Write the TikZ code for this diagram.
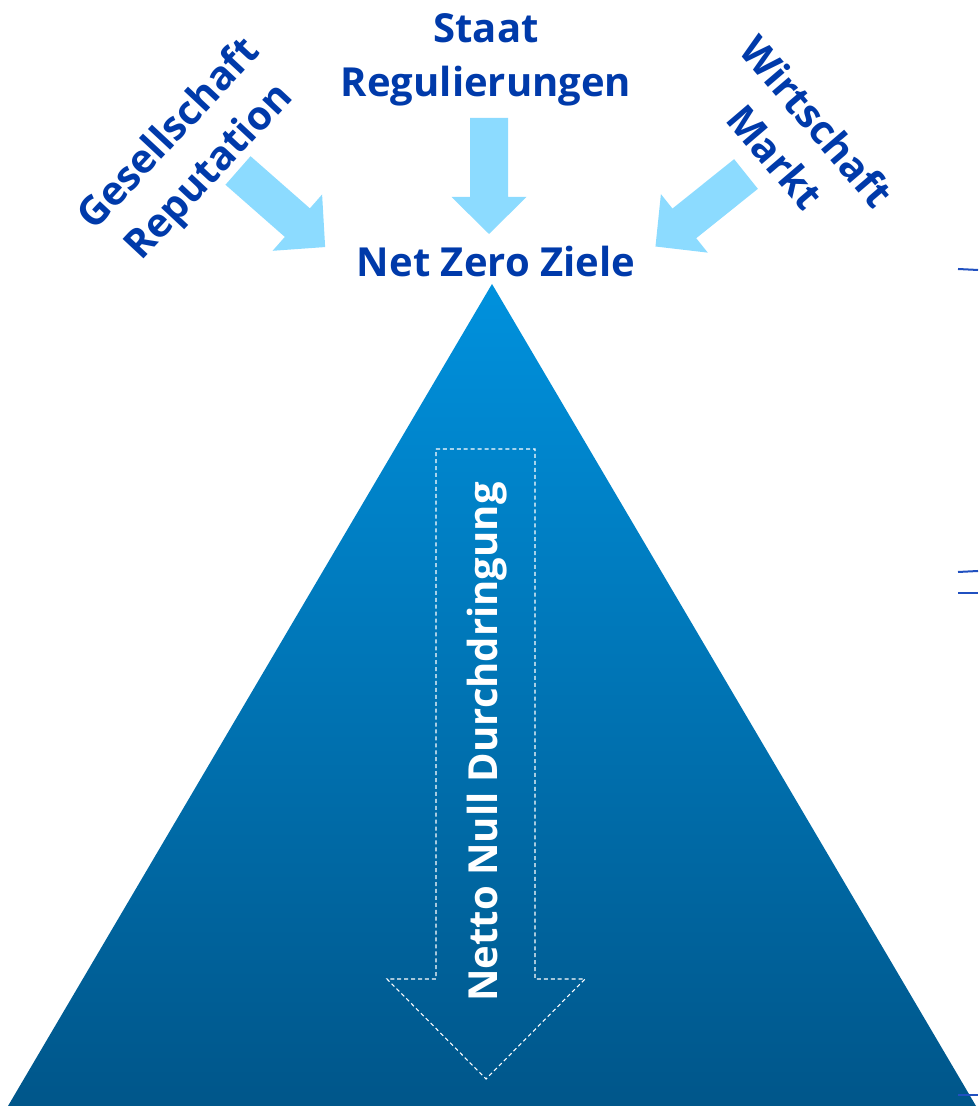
\documentclass[tikz,border=0pt]{standalone}
\usepackage{fontspec}
\setmainfont{Open Sans}
\usepackage{tikz}
\usetikzlibrary{positioning}
\usetikzlibrary{calc}
\definecolor{zieltext}{HTML}{003AAA}
\definecolor{druckpfeil}{HTML}{8CDBFF}
\definecolor{bergoben}{HTML}{0091DD}
\definecolor{bergunten}{HTML}{00568A}
\definecolor{randlinie}{HTML}{2050C0}
\tikzset{
	label/.style={text=zieltext,font=\bfseries\fontsize{30}{41}\selectfont,align=center,inner sep=0pt},
	innen/.style={text=white,font=\bfseries\fontsize{30}{41}\selectfont,inner sep=0pt},
	druck/.style={fill=druckpfeil,draw=none},
	pfad/.style={draw=white,line width=0.8pt,dash pattern=on 3pt off 2.2pt}
}

\begin{document}
\begin{tikzpicture}[x=0.75pt,y=0.75pt]
	\useasboundingbox (0,0) rectangle (978,1106);
	% berg
	\shade[top color=bergoben,bottom color=bergunten] (492,822) -- (976,0) -- (8,0) -- cycle;
	% pfeil nach unten
	\draw[pfad] (436,657) -- (535,657) -- (535,127) -- (585,127) -- (486,27) -- (387,127) -- (436,127) -- cycle;
	\node[innen,rotate=90] (netto) at (487,364) {Netto Null Durchdringung};
	% drei druckpfeile
	\foreach \px/\py/\w in {489/988/-90, 238/935.5/-41.3, 746/932/-141.3}{
		\begin{scope}[shift={(\px,\py)},rotate=\w]
			\fill[druck] (0,-19) -- (79,-19) -- (79,-37.5) -- (116,0) -- (79,37.5) -- (79,19) -- (0,19) -- cycle;
		\end{scope}
	}
	\node[label] (staat) at (486,1046) {Staat\\Regulierungen};
	\node[label,rotate=47] (gesell) at (190,952) {Gesellschaft\\Reputation};
	\node[label,rotate=-49.5] (wirt) at (796,967) {Wirtschaft\\Markt};
	\node[label,anchor=base] (ziel) at (496,829) {Net Zero Ziele};
	% reste am rand
	\draw[randlinie,line width=1.5pt] (958,837) -- (978,836);
	\draw[randlinie,line width=1.5pt] (958,534) -- (978,535);
	\draw[randlinie,line width=1.5pt] (958,513) -- (978,513);
	\draw[randlinie,line width=1.5pt] (958,11) -- (978,11);
\end{tikzpicture}
\end{document}
